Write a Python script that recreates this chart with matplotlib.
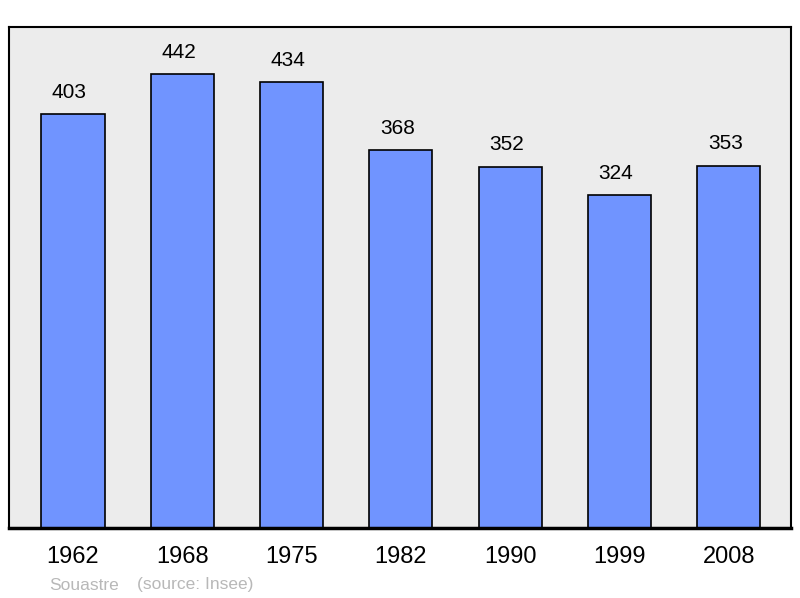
import matplotlib
matplotlib.use("Agg")
import matplotlib.pyplot as plt

years = ["1962", "1968", "1975", "1982", "1990", "1999", "2008"]
population = [403, 442, 434, 368, 352, 324, 353]

plt.rcParams['font.family'] = ['Liberation Sans', 'DejaVu Sans']

fig = plt.figure(figsize=(8, 5.98), dpi=100)
ax = fig.add_axes([9/800, 70/598, 782/800, 501/598])
ax.set_facecolor('#ececec')
x = list(range(len(years)))
ax.bar(x, population, width=0.578, color='#7094ff', edgecolor='black', linewidth=1.2, zorder=2)
for xi, v in zip(x, population):
    ax.annotate(str(v), (xi, v), xytext=(-2.5, 9), textcoords='offset points',
                ha='center', va='bottom', fontsize=15)
ax.set_xlim(-0.585, 6.57)
ax.set_ylim(0, 488)
ax.set_yticks([])
ax.set_xticks(x)
ax.set_xticklabels(years, fontsize=17)
ax.tick_params(axis='x', length=0, pad=13)
for s in ['top', 'left', 'right']:
    ax.spines[s].set_linewidth(1.5)
ax.spines['bottom'].set_linewidth(2.5)
fig.text(49/800, 1 - 585/598, "Souastre", color='#b8b8b8', fontsize=12.5, va='center', ha='left')
fig.text(137/800, 1 - 585/598, "(source: Insee)", color='#b8b8b8', fontsize=12.5, va='center', ha='left')
fig.savefig("out.png", dpi=100)
